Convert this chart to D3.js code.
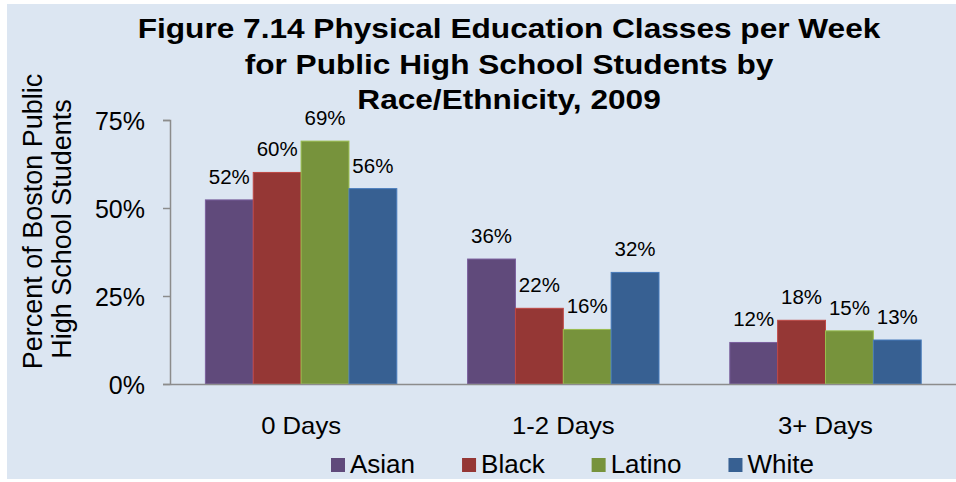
<!DOCTYPE html>
<html>
<head>
<meta charset="utf-8">
<script src="https://cdn.jsdelivr.net/npm/d3@7"></script>
<style>
  body { margin: 0; background: #ffffff; }
  svg { display: block; font-family: "Liberation Sans", Arial, sans-serif; }
</style>
</head>
<body>
<svg id="chart" width="956" height="482"></svg>
<script>
// data (percent of students)
const categories = ["0 Days", "1-2 Days", "3+ Days"];
const groups = ["Asian", "Black", "Latino", "White"];
const asian = [52.3, 35.5, 11.8];
const black = [60.1, 21.5, 18.1];
const latino = [69.0, 15.5, 15.1];
const white = [55.5, 31.7, 12.5];
const yTicks = [0, 25, 50, 75];
const titleLines = [
    "Figure 7.14 Physical Education Classes per Week",
    "for Public High School Students by",
    "Race/Ethnicity, 2009"
];

const colors = ["#604a7b", "#953735", "#77933c", "#376092"];
const seriesValues = [asian, black, latino, white];

const rows = categories.map((c, i) => ({
    category: c,
    values: groups.map((g, j) => ({ group: g, value: seriesValues[j][i], color: colors[j] }))
}));

const svg = d3.select("#chart");

// panel background
svg.append("rect")
    .attr("x", 7).attr("y", 4)
    .attr("width", 960).attr("height", 475)
    .attr("fill", "#dce6f2");

// title
svg.append("g").selectAll("text")
    .data(titleLines)
    .join("text")
    .attr("transform", (d, i) => `translate(509,${37.7 + i * 35.8}) scale(1.15,1)`)
    .attr("text-anchor", "middle")
    .attr("font-weight", "bold")
    .attr("font-size", 27.5)
    .attr("fill", "#000")
    .text((d) => d);

const x0 = d3.scaleBand()
    .domain(categories)
    .range([170, 956.6])
    .paddingInner(0.27)
    .paddingOuter(0.135);

const x1 = d3.scaleBand()
    .domain(groups)
    .range([0, x0.bandwidth()]);

const y = d3.scaleLinear()
    .domain([0, 75])
    .range([384, 120]);

// y axis
const yAxis = svg.append("g")
    .attr("transform", "translate(170,0)")
    .call(d3.axisLeft(y).tickValues(yTicks).tickFormat((d) => d + "%").tickSize(7).tickPadding(18));
yAxis.select(".domain").attr("stroke", "#8c8c8c").attr("stroke-width", 1.5);
yAxis.selectAll(".tick line").attr("stroke", "#8c8c8c").attr("stroke-width", 1.5);
yAxis.selectAll(".tick text")
    .attr("font-size", 25)
    .attr("font-family", "Liberation Sans, Arial, sans-serif")
    .attr("fill", "#000")
    .attr("dy", "0.36em");

// bars
const groupSel = svg.append("g").selectAll("g")
    .data(rows)
    .join("g")
    .attr("transform", (d) => `translate(${x0(d.category)},0)`);

groupSel.selectAll("rect")
    .data((d) => d.values)
    .join("rect")
    .attr("x", (d) => x1(d.group))
    .attr("y", (d) => y(d.value))
    .attr("width", x1.bandwidth())
    .attr("height", (d) => y(0) - y(d.value))
    .attr("fill", (d) => d.color)
    .attr("stroke", (d) => d3.color(d.color).brighter(0.7))
    .attr("stroke-width", 1);

groupSel.selectAll("text")
    .data((d) => d.values)
    .join("text")
    .attr("x", (d) => x1(d.group) + x1.bandwidth() / 2)
    .attr("y", (d) => y(d.value) - 16)
    .attr("text-anchor", "middle")
    .attr("font-size", 20.5)
    .attr("fill", "#000")
    .text((d) => Math.round(d.value) + "%");

// x axis line and category labels
const xAxis = svg.append("g")
    .attr("transform", "translate(0,384)")
    .call(d3.axisBottom(x0).tickSize(0));
xAxis.select(".domain").attr("stroke", "#8c8c8c").attr("stroke-width", 1.5);
xAxis.selectAll(".tick text")
    .attr("font-size", 24)
    .attr("font-family", "Liberation Sans, Arial, sans-serif")
    .attr("fill", "#000")
    .attr("y", 0)
    .attr("dy", 0)
    .attr("transform", "translate(0,50) scale(1.07,1)");

// y axis title
const yTitle = [
    { text: "Percent of Boston Public", x: 42, cy: 221.5 },
    { text: "High School Students", x: 71, cy: 229 }
];
svg.append("g").selectAll("text")
    .data(yTitle)
    .join("text")
    .attr("transform", (d) => `translate(${d.x},${d.cy}) rotate(-90)`)
    .attr("text-anchor", "middle")
    .attr("font-size", 27)
    .attr("fill", "#000")
    .text((d) => d.text);

// legend
const legend = svg.append("g").attr("transform", "translate(331,0)");
let lx = 0;
groups.forEach((g, i) => {
    const item = legend.append("g").attr("transform", `translate(${lx},0)`);
    item.append("rect")
        .attr("x", 0).attr("y", 458)
        .attr("width", 14).attr("height", 14)
        .attr("fill", colors[i]);
    const t = item.append("text")
        .attr("x", 19).attr("y", 473)
        .attr("font-size", 26)
        .attr("fill", "#000")
        .text(g);
    lx += 19 + t.node().getComputedTextLength() + 47;
});
</script>
</body>
</html>
